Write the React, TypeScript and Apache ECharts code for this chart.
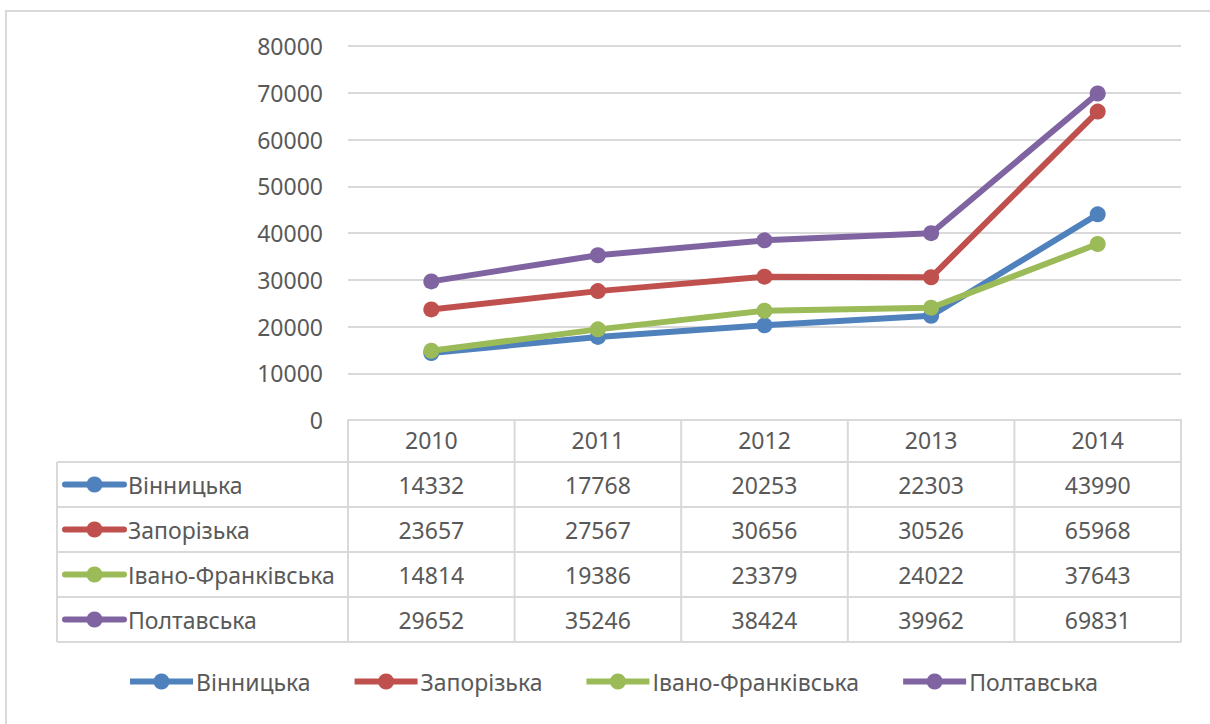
import React, { useEffect, useRef } from "react";
import * as echarts from "echarts";

const categories = ["2010", "2011", "2012", "2013", "2014"];
const seriesNames = ["Вінницька", "Запорізька", "Івано-Франківська", "Полтавська"];
const vinnytska = [14332, 17768, 20253, 22303, 43990];
const zaporizka = [23657, 27567, 30656, 30526, 65968];
const ivanoFrankivska = [14814, 19386, 23379, 24022, 37643];
const poltavska = [29652, 35246, 38424, 39962, 69831];
const yTicks = { min: 0, max: 80000, interval: 10000 };
const colors = ["#4f81bd", "#c0504d", "#9bbb59", "#8064a2"];

const seriesData = [vinnytska, zaporizka, ivanoFrankivska, poltavska];

const FONT = "'Noto Sans', sans-serif";
const TEXT = "#595959";
const GRID = "#d9d9d9";
const FS = 23;

export default function App() {
  const ref = useRef<HTMLDivElement>(null);
  useEffect(() => {
    const el = ref.current!;
    const chart = echarts.init(el, null, { renderer: "svg" });
    const gridLeft = 348;
    const gridRight = 1210 - 1181;
    const gridTop = 46;
    const gridBottom = 724 - 420;
    chart.setOption({
      animation: false,
      textStyle: { fontFamily: FONT },
      grid: { left: gridLeft, right: gridRight, top: gridTop, bottom: gridBottom, containLabel: false },
      xAxis: {
        type: "category",
        data: categories,
        boundaryGap: true,
        axisLine: { show: true, lineStyle: { color: GRID, width: 2 } },
        axisTick: { show: false },
        axisLabel: { color: TEXT, fontSize: FS, fontFamily: FONT, margin: 8 },
      },
      yAxis: {
        type: "value",
        min: yTicks.min,
        max: yTicks.max,
        interval: yTicks.interval,
        axisLine: { show: false },
        axisTick: { show: false },
        axisLabel: {
          color: TEXT,
          fontSize: FS,
          fontFamily: FONT,
          margin: 25,
          formatter: (v: number) => String(v),
        },
        splitLine: { lineStyle: { color: GRID, width: 2 } },
      },
      legend: {
        top: 665,
        left: 122,
        itemWidth: 63,
        itemHeight: 20,
        itemGap: 41,
        lineStyle: { width: 6 },
        textStyle: { color: TEXT, fontSize: FS, fontFamily: FONT, padding: [0, 0, 0, -2] },
        data: seriesNames,
      },
      series: seriesNames.map((name, i) => ({
        name,
        type: "line",
        data: seriesData[i],
        symbol: "circle",
        symbolSize: 16,
        color: colors[i],
        lineStyle: { width: 6, color: colors[i] },
        itemStyle: { color: colors[i] },
      })),
    });

    // Build data table under the plot from the data arrays
    const xs = categories.map((_, i) => chart.convertToPixel({ xAxisIndex: 0 }, i) as number);
    const colW = xs.length > 1 ? xs[1] - xs[0] : 166;
    const tableRight = xs[xs.length - 1] + colW / 2;
    const tableColLeft = xs[0] - colW / 2;
    const yZero = chart.convertToPixel({ yAxisIndex: 0 }, 0) as number;
    const headerBottom = 462;
    const rowH = 45;
    const tableLeft = 57;
    const rowsBottom = headerBottom + rowH * seriesNames.length;

    const g: any[] = [];
    g.push({
      type: "rect",
      shape: { x: 6, y: 11, width: 1230, height: 760 },
      style: { fill: "none", stroke: GRID, lineWidth: 2 },
      silent: true,
      z: -1,
    });
    for (let k = 0; k <= categories.length; k++) {
      const x = tableColLeft + k * colW;
      g.push({
        type: "line",
        shape: { x1: x, y1: yZero, x2: x, y2: rowsBottom },
        style: { stroke: GRID, lineWidth: 2 },
        silent: true,
      });
    }
    g.push({
      type: "line",
      shape: { x1: tableLeft, y1: headerBottom, x2: tableLeft, y2: rowsBottom },
      style: { stroke: GRID, lineWidth: 2 },
      silent: true,
    });
    for (let r = 0; r <= seriesNames.length; r++) {
      const y = headerBottom + r * rowH;
      g.push({
        type: "line",
        shape: { x1: tableLeft, y1: y, x2: tableRight, y2: y },
        style: { stroke: GRID, lineWidth: 2 },
        silent: true,
      });
    }
    seriesNames.forEach((name, r) => {
      const cy = headerBottom + r * rowH + rowH / 2;
      g.push({
        type: "line",
        shape: { x1: 65, y1: cy, x2: 124, y2: cy },
        style: { stroke: colors[r], lineWidth: 6, lineCap: "round" },
        silent: true,
      });
      g.push({
        type: "circle",
        shape: { cx: 94.5, cy, r: 8 },
        style: { fill: colors[r] },
        silent: true,
      });
      g.push({
        type: "text",
        x: 128,
        y: cy,
        style: { text: name, fill: TEXT, fontSize: FS, fontFamily: FONT, verticalAlign: "middle", align: "left" },
        silent: true,
      });
      seriesData[r].forEach((v, i) => {
        g.push({
          type: "text",
          x: xs[i],
          y: cy,
          style: { text: String(v), fill: TEXT, fontSize: FS, fontFamily: FONT, verticalAlign: "middle", align: "center" },
          silent: true,
        });
      });
    });
    chart.setOption({ graphic: { elements: g } });

    return () => chart.dispose();
  }, []);
  return <div ref={ref} style={{ position: "absolute", left: 0, top: 0, width: 1210, height: 724, background: "#fff" }} />;
}
